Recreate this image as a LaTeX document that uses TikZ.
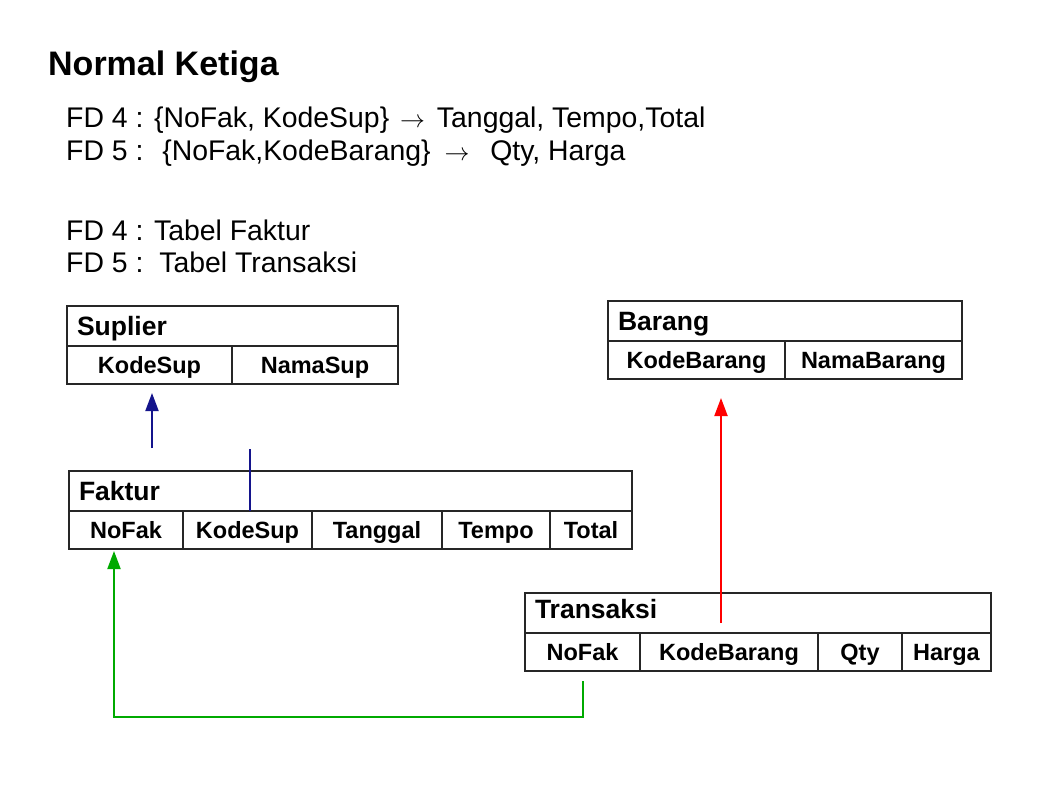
\documentclass[tikz,border=0pt]{standalone}
\usepackage{fontspec}
\setmainfont{Liberation Sans}
\usetikzlibrary{arrows.meta,positioning}

\definecolor{fknavy}{RGB}{20,20,140}
\definecolor{fkred}{RGB}{255,0,0}
\definecolor{fkgreen}{RGB}{0,170,0}

\tikzset{
  tabhead/.style={draw=black!85, line width=1.6pt, anchor=north west, outer sep=0pt,
    inner xsep=10pt, inner ysep=0pt, minimum height=40pt, align=left,
    text height=20pt, text depth=2pt, font=\fontsize{26.5}{28}\selectfont\bfseries},
  tabcell/.style={draw=black!85, line width=1.6pt, outer sep=0pt, inner sep=0pt,
    minimum height=38pt, text height=19pt, text depth=3pt,
    font=\fontsize{23.5}{26}\selectfont\bfseries},
  fdline/.style={anchor=base west, inner sep=0pt, font=\fontsize{28.4}{32}\selectfont},
  fk/.style={line width=2pt, -{Triangle[width=13pt,length=18pt]}},
}

\begin{document}
\begin{tikzpicture}[x=1pt, y=-1pt]
  \useasboundingbox (0,0) rectangle (1059,793);

  % heading and the two dependencies
  \node[anchor=base west, inner sep=0pt, font=\fontsize{34}{38}\selectfont\bfseries] (title) at (48,75) {Normal Ketiga};
  \node[fdline] (fd4) at (66,127) {FD 4 : \{NoFak, KodeSup\}\hspace{3pt} $\rightarrow$\hspace{4pt} Tanggal, Tempo,Total};
  \node[fdline] (fd5) at (66,160) {FD 5 :\ \ \hspace{3pt}\{NoFak,KodeBarang\}\hspace{6pt} $\rightarrow$\ \ \hspace{5pt}Qty, Harga};
  \node[fdline] (tab4) at (66,240) {FD 4 : Tabel Faktur};
  \node[fdline] (tab5) at (66,272) {FD 5 :\ \ Tabel Transaksi};

  % Suplier
  \node[tabhead, minimum width=331pt, text width=311pt] (suphead) at (67,306) {Suplier};
  \node[tabcell, minimum width=165pt, below right=0pt and 0pt of suphead.south west] (sup1) {KodeSup};
  \node[tabcell, minimum width=166pt, right=0pt of sup1] (sup2) {NamaSup};

  % Barang
  \node[tabhead, minimum width=354pt, text width=334pt] (barhead) at (608,301) {Barang};
  \node[tabcell, minimum width=177pt, below right=0pt and 0pt of barhead.south west] (bar1) {KodeBarang};
  \node[tabcell, minimum width=177pt, right=0pt of bar1] (bar2) {NamaBarang};

  % Faktur
  \node[tabhead, minimum width=563pt, text width=543pt] (fakhead) at (69,471) {Faktur};
  \node[tabcell, minimum width=114pt, below right=0pt and 0pt of fakhead.south west] (fak1) {NoFak};
  \node[tabcell, minimum width=129pt, right=0pt of fak1] (fak2) {KodeSup};
  \node[tabcell, minimum width=130pt, right=0pt of fak2] (fak3) {Tanggal};
  \node[tabcell, minimum width=108pt, right=0pt of fak3] (fak4) {Tempo};
  \node[tabcell, minimum width=82pt, right=0pt of fak4] (fak5) {Total};

  % Transaksi
  \node[tabhead, minimum width=466pt, text width=446pt, text height=16pt, text depth=6pt] (trxhead) at (525,593) {Transaksi};
  \node[tabcell, minimum width=115pt, below right=0pt and 0pt of trxhead.south west] (trx1) {NoFak};
  \node[tabcell, minimum width=178pt, right=0pt of trx1] (trx2) {KodeBarang};
  \node[tabcell, minimum width=84pt, right=0pt of trx2] (trx3) {Qty};
  \node[tabcell, minimum width=89pt, right=0pt of trx3] (trx4) {Harga};

  % foreign keys
  \coordinate (suptail) at (152,448);
  \draw[fk, fknavy, shorten >=9pt] (suptail) -- (suptail |- sup1.south);
  \coordinate (fakmark) at (250,449);
  \draw[fknavy, line width=2pt] (fakmark) -- (fakmark |- fak2.north);

  \coordinate (trxmark) at (721,623);
  \draw[fk, fkred, shorten >=19pt] (trxmark) -- (trxmark |- bar1.south);

  \coordinate (nofakbend) at (114,717);
  \draw[fk, fkgreen, shorten <=10pt, shorten >=2pt] (trx1.south) |- (nofakbend) -- (nofakbend |- fak1.south);
\end{tikzpicture}
\end{document}
